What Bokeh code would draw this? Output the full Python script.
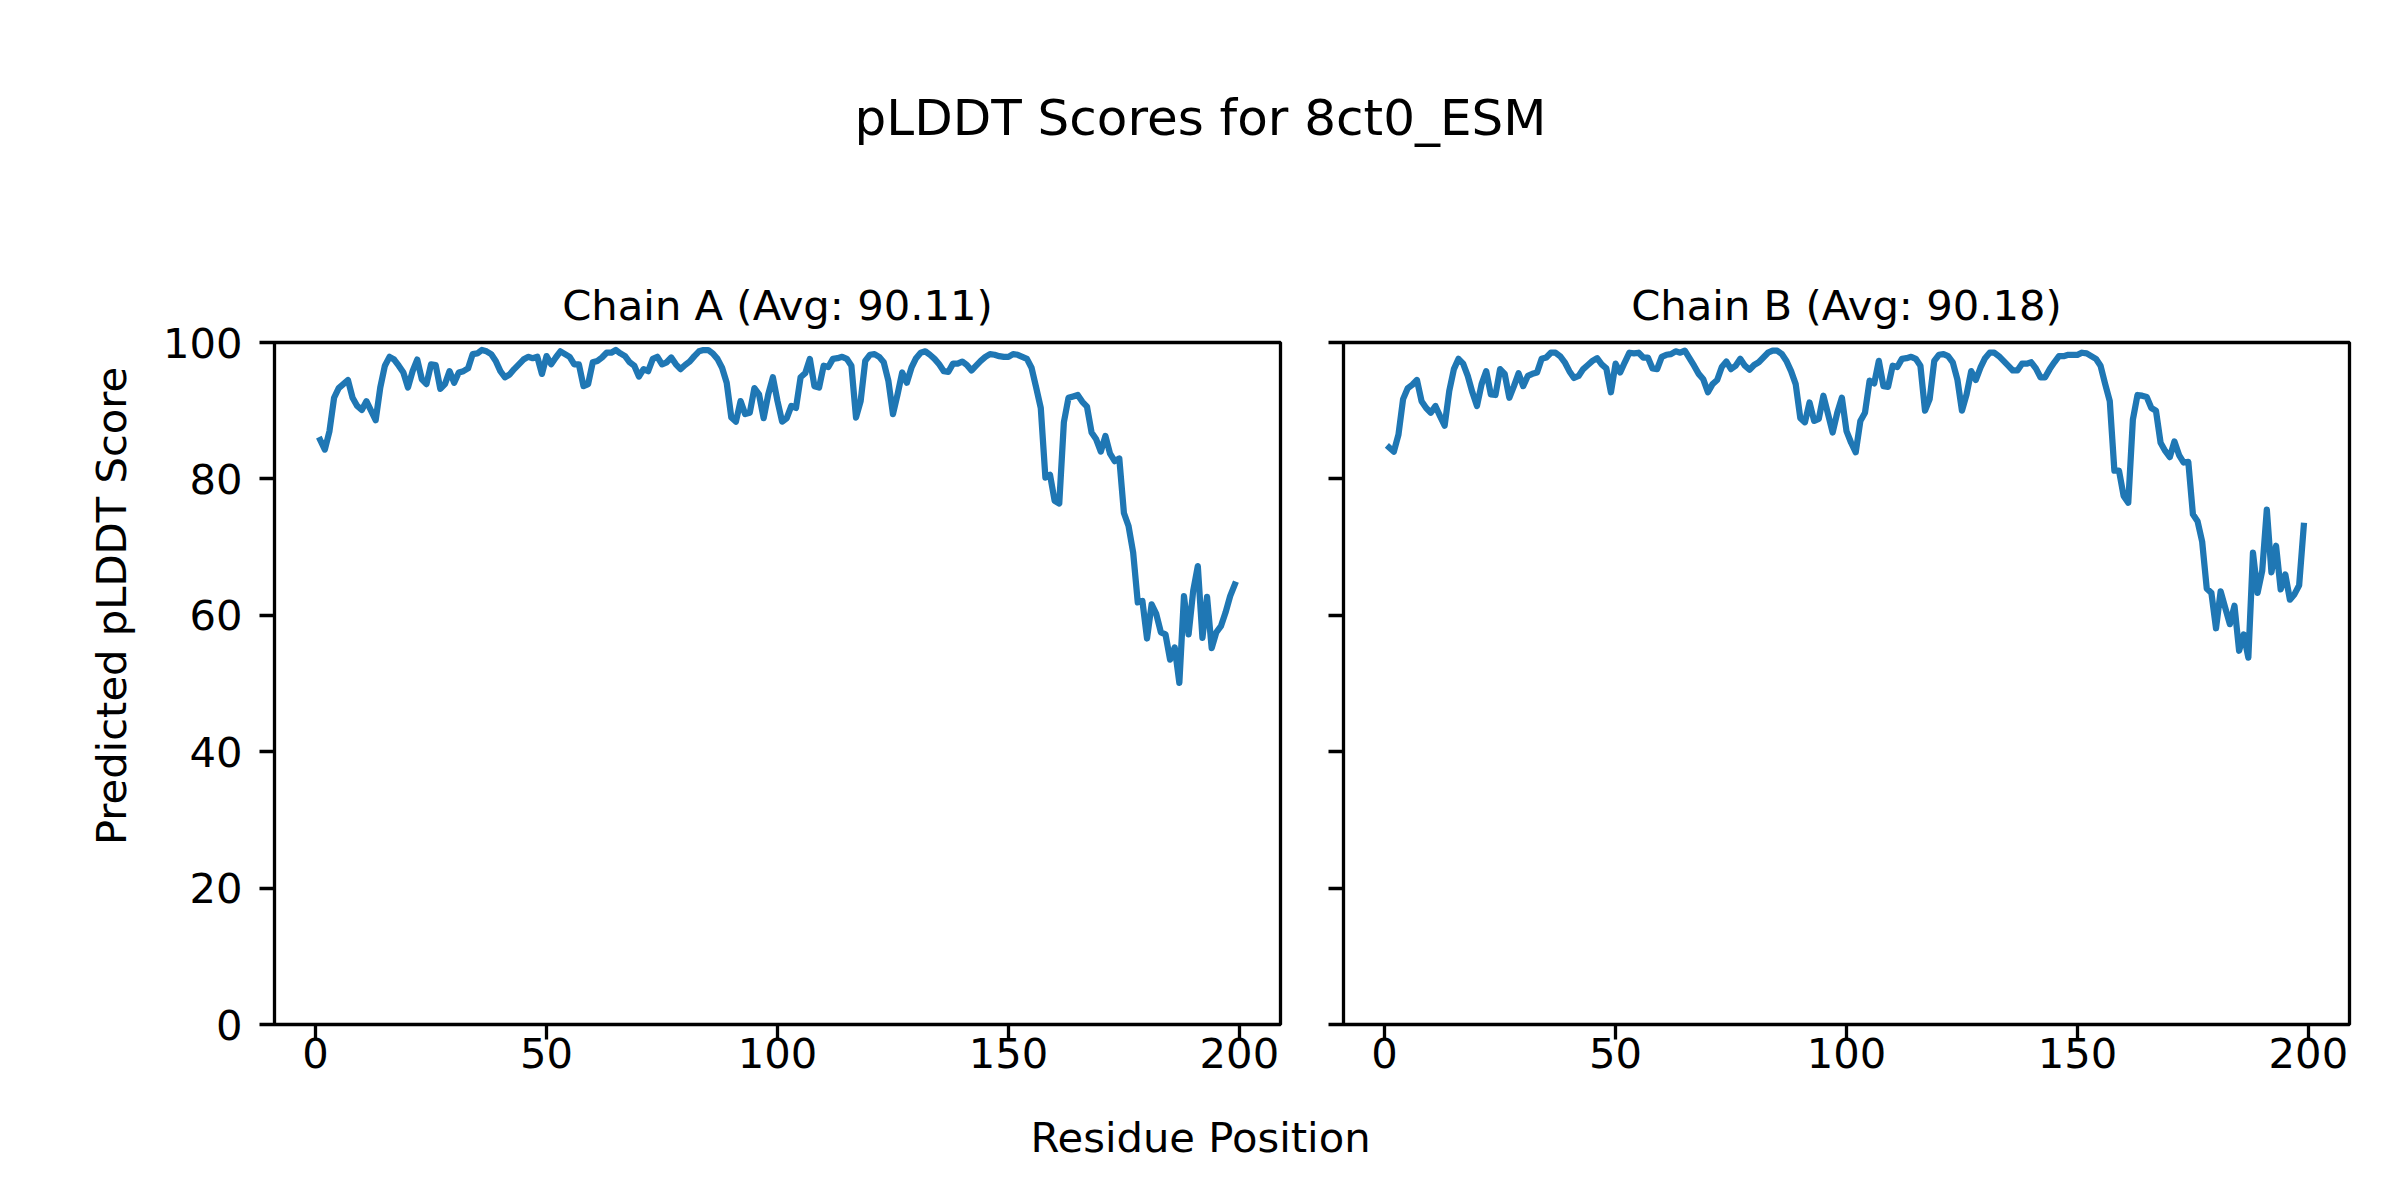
from bokeh.plotting import figure
from bokeh.layouts import column, row
from bokeh.models import Range1d, FixedTicker, Title
from bokeh.core.properties import value
from bokeh.embed import file_html
from bokeh.resources import INLINE

# ---------------- data ----------------
residues = list(range(1, 200))

chain_a = [
    85.7, 84.3, 87.0, 91.9, 93.3, 93.9, 94.5, 91.9, 90.7, 90.1,
    91.4, 90.0, 88.6, 93.4, 96.6, 97.9, 97.5, 96.6, 95.6, 93.4,
    95.8, 97.5, 94.6, 93.9, 96.8, 96.7, 93.2, 93.9, 95.8, 94.1,
    95.6, 95.8, 96.2, 98.3, 98.4, 98.9, 98.7, 98.3, 97.3, 95.8,
    94.9, 95.3, 96.1, 96.8, 97.5, 97.9, 97.7, 97.9, 95.4, 98.0,
    96.8, 97.8, 98.7, 98.3, 97.9, 96.8, 96.8, 93.6, 93.9, 97.1,
    97.3, 97.8, 98.5, 98.5, 98.9, 98.4, 98.0, 97.1, 96.6, 95.0,
    96.1, 95.8, 97.6, 97.9, 96.8, 97.1, 97.8, 96.8, 96.1, 96.7,
    97.2, 98.0, 98.7, 98.9, 98.9, 98.4, 97.6, 96.3, 94.1, 89.0,
    88.4, 91.4, 89.5, 89.7, 93.3, 92.4, 88.9, 92.4, 94.9, 91.4,
    88.4, 88.9, 90.7, 90.4, 94.9, 95.5, 97.6, 93.6, 93.4, 96.6,
    96.4, 97.6, 97.7, 97.9, 97.6, 96.6, 89.0, 91.4, 97.3, 98.2,
    98.3, 97.9, 97.1, 94.4, 89.5, 92.4, 95.6, 94.1, 96.3, 97.7,
    98.5, 98.7, 98.2, 97.6, 96.8, 95.8, 95.7, 96.9, 96.9, 97.2,
    96.7, 95.9, 96.6, 97.3, 97.9, 98.3, 98.2, 98.0, 97.9, 97.9,
    98.3, 98.2, 97.9, 97.6, 96.3, 93.4, 90.4, 80.2, 80.6, 76.8,
    76.4, 88.3, 91.9, 92.1, 92.3, 91.3, 90.6, 86.8, 85.8, 84.0,
    86.3, 83.7, 82.6, 83.0, 75.0, 73.1, 69.2, 61.9, 62.1, 56.6,
    61.6, 60.2, 57.5, 57.2, 53.5, 55.3, 50.1, 62.8, 57.2, 63.6,
    67.2, 56.7, 62.7, 55.2, 57.5, 58.4, 60.4, 62.8, 64.5,
]

chain_b = [
    84.6, 84.0, 86.5, 91.7, 93.3, 93.8, 94.5, 91.4, 90.4, 89.7,
    90.7, 89.2, 87.8, 92.9, 96.1, 97.6, 96.9, 95.1, 92.7, 90.7,
    93.9, 95.8, 92.4, 92.3, 96.1, 95.4, 91.9, 93.6, 95.5, 93.6,
    95.1, 95.4, 95.6, 97.6, 97.8, 98.5, 98.5, 98.0, 97.1, 95.8,
    94.8, 95.1, 96.1, 96.7, 97.3, 97.7, 96.8, 96.2, 92.7, 96.9,
    95.6, 97.1, 98.5, 98.4, 98.5, 97.8, 97.8, 96.2, 96.1, 97.9,
    98.2, 98.3, 98.7, 98.5, 98.8, 97.7, 96.6, 95.4, 94.6, 92.7,
    93.9, 94.5, 96.4, 97.2, 96.1, 96.6, 97.6, 96.6, 96.0, 96.7,
    97.1, 97.8, 98.5, 98.8, 98.8, 98.3, 97.3, 95.8, 93.9, 88.9,
    88.3, 91.2, 88.5, 88.8, 92.2, 89.5, 86.8, 89.7, 91.9, 87.0,
    85.3, 83.9, 88.5, 89.7, 94.4, 94.0, 97.3, 93.6, 93.5, 96.6,
    96.4, 97.6, 97.7, 97.9, 97.6, 96.6, 90.0, 91.7, 97.3, 98.2,
    98.3, 98.0, 97.1, 94.6, 90.0, 92.4, 95.8, 94.5, 96.3, 97.7,
    98.5, 98.5, 98.0, 97.3, 96.6, 95.9, 95.9, 96.9, 96.9, 97.1,
    96.2, 94.9, 94.9, 96.1, 97.1, 98.0, 98.0, 98.2, 98.2, 98.2,
    98.5, 98.4, 98.0, 97.6, 96.6, 93.9, 91.4, 81.2, 81.2, 77.5,
    76.5, 88.7, 92.3, 92.2, 92.0, 90.4, 90.0, 85.3, 84.1, 83.2,
    85.5, 83.5, 82.4, 82.5, 74.8, 73.8, 70.8, 63.9, 63.3, 58.1,
    63.5, 61.1, 58.7, 61.4, 54.8, 57.2, 53.8, 69.2, 63.3, 66.5,
    75.5, 66.3, 70.2, 63.8, 66.0, 62.3, 63.1, 64.4, 73.1,
]

x_ticks = [0, 50, 100, 150, 200]
y_ticks = [0, 20, 40, 60, 80, 100]
suptitle = "pLDDT Scores for 8ct0_ESM"
titles = ["Chain A (Avg: 90.11)", "Chain B (Avg: 90.18)"]
x_label = "Residue Position"
y_label = "Predicted pLDDT Score"

# ---------------- style ----------------
FONT = "DejaVu Sans"
TICK_FS = "41.7px"
LINE_COLOR = "#1f77b4"
SPINE_W = 3.3

TOP_H = 160
ROW_H = 950
BOT_H = 82
YLAB_W = 138
FRAME_W = 1006
FRAME_H = 682
FRAME_TOP = 182


def helper_fig(w, h):
    f = figure(width=w, height=h, x_range=Range1d(0, w), y_range=Range1d(0, h),
               x_axis_type=None, y_axis_type=None, toolbar_location=None, tools="",
               output_backend="svg", min_border=0, title=None)
    f.outline_line_color = None
    f.grid.visible = False
    return f


def chain_fig(title, yvals, left, right, show_ylabels):
    f = figure(width=left + FRAME_W + right, height=ROW_H,
               x_range=Range1d(-8.9, 208.9), y_range=Range1d(0, 100),
               toolbar_location=None, tools="", output_backend="svg",
               min_border_left=left, min_border_right=right,
               min_border_top=FRAME_TOP, min_border_bottom=ROW_H - FRAME_TOP - FRAME_H)
    f.title = Title(text=title, align="center", text_font=FONT, text_font_size="41.7px",
                    text_font_style="normal", text_color="black", standoff=25)
    f.grid.visible = False
    f.outline_line_color = "black"
    f.outline_line_width = SPINE_W
    for ax in (f.xaxis[0], f.yaxis[0]):
        ax.axis_line_color = None
        ax.major_tick_line_color = "black"
        ax.major_tick_line_width = SPINE_W
        ax.major_tick_out = 15
        ax.major_tick_in = 0
        ax.minor_tick_line_color = None
        ax.major_label_text_font = FONT
        ax.major_label_text_font_size = TICK_FS
        ax.major_label_text_color = "black"
    f.xaxis.ticker = FixedTicker(ticks=x_ticks)
    f.yaxis.ticker = FixedTicker(ticks=y_ticks)
    f.xaxis.major_label_standoff = -2
    f.yaxis.major_label_standoff = 17
    if not show_ylabels:
        f.yaxis.major_label_overrides = {t: "" for t in y_ticks}
    f.line(residues, yvals, line_color=LINE_COLOR, line_width=6.25,
           line_join="round", line_cap="square")
    return f


top = helper_fig(2392, TOP_H)
top.text(x=[1200], y=[TOP_H - 117], text=[suptitle], text_font=value(FONT),
         text_font_size=value("50px"), text_align="center", text_baseline="middle",
         text_color="black")

ylab = helper_fig(YLAB_W, ROW_H)
ylab.text(x=[111], y=[ROW_H - (601 - TOP_H) + 74], text=[y_label], angle=1.5707963,
          text_font=value(FONT), text_font_size=value("41.7px"), text_align="center",
          text_baseline="middle", text_color="black")

fa = chain_fig(titles[0], chain_a, 136, 30, True)
fb = chain_fig(titles[1], chain_b, 33, 43, False)

bottom = helper_fig(2392, BOT_H)
bottom.text(x=[1200], y=[BOT_H - (1137 - TOP_H - ROW_H)], text=[x_label],
            text_font=value(FONT), text_font_size=value("41.7px"), text_align="center",
            text_baseline="middle", text_color="black")

layout = column(top, row(ylab, fa, fb), bottom)

open("out.html", "w").write(file_html(layout, INLINE))
